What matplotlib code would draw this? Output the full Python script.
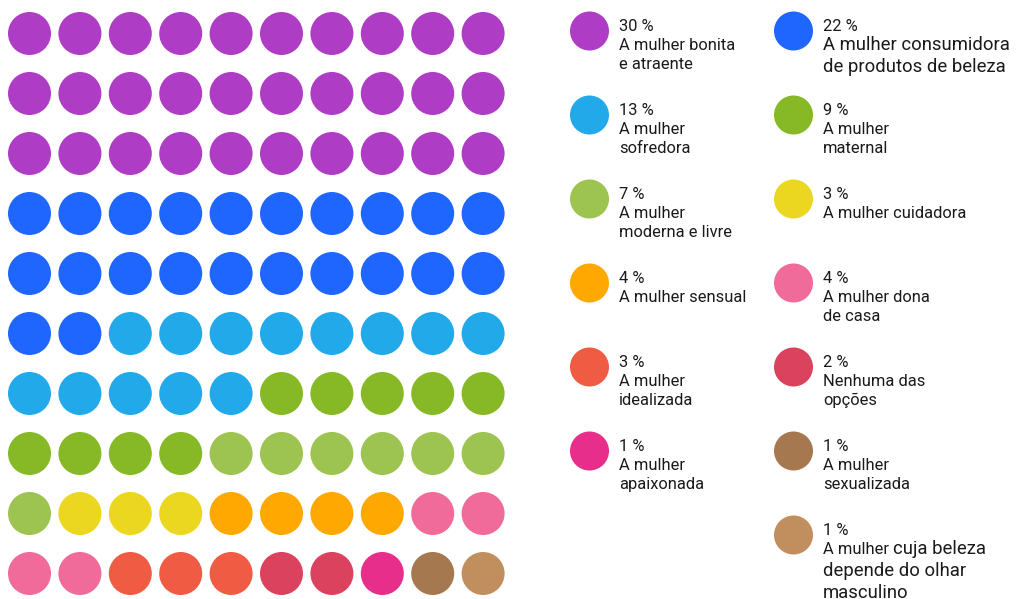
"""
Waffle chart: representação da mulher na publicidade
"""
import matplotlib
matplotlib.use("Agg")
import matplotlib.pyplot as plt
from matplotlib.patches import Circle

# dados
percentuais = [30, 22, 13, 9, 7, 3, 4, 4, 3, 2, 1, 1, 1]
rotulos = [
    "A mulher bonita\ne atraente",
    "A mulher consumidora\nde produtos de beleza",
    "A mulher\nsofredora",
    "A mulher\nmaternal",
    "A mulher\nmoderna e livre",
    "A mulher cuidadora",
    "A mulher sensual",
    "A mulher dona\nde casa",
    "A mulher\nidealizada",
    "Nenhuma das\nopções",
    "A mulher\napaixonada",
    "A mulher\nsexualizada",
    "A mulher cuja beleza\ndepende do olhar\nmasculino",
]
cores = [
    "#AE3CC4", "#1F66FF", "#22A9E9", "#86B925", "#9DC350", "#EBD720",
    "#FFA801", "#F06B9A", "#F05B43", "#DA425D", "#E62E8A", "#A67850",
    "#C18F5E",
]

N_COLS = 10
FONT = ["Roboto", "DejaVu Sans"]
COR_TXT = "#1a1a1a"

fig = plt.figure(figsize=(10.17, 5.99), dpi=100)
ax = fig.add_axes([0, 0, 1, 1])
ax.set_xlim(0, 1017)
ax.set_ylim(599, 0)
ax.set_aspect("equal")
ax.axis("off")

# waffle (10 x 10)
k = 0
for cor, p in zip(cores, percentuais):
    for _ in range(p):
        lin, col = divmod(k, N_COLS)
        ax.add_patch(Circle((29.5 + 50.4 * col, 33.5 + 60 * lin), 21.5,
                            color=cor, lw=0))
        k += 1

# legenda em duas colunas (o último item fica na coluna da direita)
fs_p, fs_g = 11.9, 13.3
fig.canvas.draw()
renderer = fig.canvas.get_renderer()
for i, (p, rot, cor) in enumerate(zip(percentuais, rotulos, cores)):
    lin, col = divmod(i, 2)
    if i == 12:
        lin, col = 6, 1
    cx = 589.5 + 204 * col
    cy = 31 + 84 * lin
    ax.add_patch(Circle((cx, cy), 19.5, color=cor, lw=0))
    tx = cx + 29.5
    ax.text(tx, cy, f"{p} %", fontsize=fs_p, family=FONT, va="baseline",
            color=COR_TXT)
    linhas = rot.split("\n")
    if i == 1:
        for j, l in enumerate(linhas):
            ax.text(tx, cy + 19.5 + 21 * j, l, fontsize=fs_g, family=FONT,
                    va="baseline", color=COR_TXT)
    elif i == 12:
        t = ax.text(tx, cy + 19, "A mulher ", fontsize=fs_p, family=FONT,
                    va="baseline", color=COR_TXT)
        bb = t.get_window_extent(renderer)
        ax.text(tx + bb.width, cy + 19, linhas[0].replace("A mulher ", ""),
                fontsize=fs_g, family=FONT, va="baseline", color=COR_TXT)
        for j, l in enumerate(linhas[1:]):
            ax.text(tx, cy + 41 + 22 * j, l, fontsize=fs_g, family=FONT,
                    va="baseline", color=COR_TXT)
    else:
        for j, l in enumerate(linhas):
            ax.text(tx, cy + 19 + 19 * j, l, fontsize=fs_p, family=FONT,
                    va="baseline", color=COR_TXT)

fig.savefig("out.png", dpi=100)
plt.close(fig)
